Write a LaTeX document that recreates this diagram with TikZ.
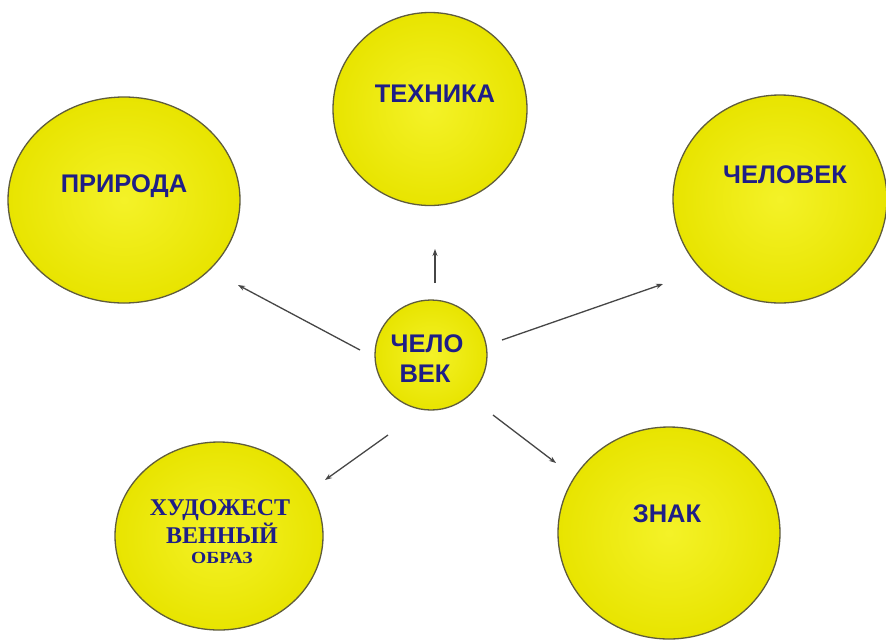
\documentclass[tikz,border=0pt]{standalone}
\usepackage{fontspec}
\setmainfont{Liberation Sans}
\newfontfamily\serifbold{Liberation Serif}
\usetikzlibrary{shapes.geometric,arrows.meta}
\definecolor{txtblue}{RGB}{30,30,135}
\definecolor{yelL}{RGB}{244,242,40}
\definecolor{yelD}{RGB}{232,228,0}
\definecolor{rimc}{RGB}{95,92,60}
\definecolor{arrc}{RGB}{70,70,70}
\begin{document}
\begin{tikzpicture}[x=1pt,y=-1pt,
  bub/.style={ellipse,draw=rimc,line width=1.3pt,inner sep=0pt,inner color=yelL,outer color=yelD},
  lbl/.style={anchor=base,inner sep=0pt,text=txtblue,font=\fontsize{25.5}{30}\selectfont\bfseries},
  slbl/.style={anchor=base,inner sep=0pt,text=txtblue,font=\serifbold\fontsize{24}{28}\selectfont\bfseries},
  arr/.style={draw=arrc,line width=1.3pt,-{Stealth[length=7pt,width=5pt]}}]
\useasboundingbox (0,0) rectangle (886,641);
\fill[white] (0,0) rectangle (886,641);
% bubbles
\node[bub,minimum width=232pt,minimum height=206pt] (prir) at (124,200) {};
\node[bub,minimum width=194pt,minimum height=193pt] (tech) at (430,109) {};
\node[bub,minimum width=214pt,minimum height=208pt] (chel) at (780,199) {};
\node[bub,minimum width=112pt,minimum height=110pt] (cen) at (431,355) {};
\node[bub,minimum width=208pt,minimum height=188pt] (hud) at (219,536) {};
\node[bub,minimum width=222pt,minimum height=212pt] (znak) at (669,533) {};
% labels
\node[lbl] (tprir) at (124,192) {ПРИРОДА};
\node[lbl] (ttech) at (435,102) {ТЕХНИКА};
\node[lbl] (tchel) at (785,183) {ЧЕЛОВЕК};
\node[lbl] (tznak) at (667,522) {ЗНАК};
\node[lbl] (tc1) at (427,352) {ЧЕЛО};
\node[lbl] (tc2) at (425,382) {ВЕК};
\node[slbl] (th1) at (220,515) {ХУДОЖЕСТ};
\node[slbl] (th2) at (222,543) {ВЕННЫЙ};
\node[slbl,font=\serifbold\fontsize{17}{20}\selectfont\bfseries,xscale=1.15] (th3) at (222,563) {ОБРАЗ};
% connector ends
\coordinate (a1s) at (360,350); \coordinate (a1e) at (238,285);
\coordinate (a2s) at (435,283); \coordinate (a2e) at (435,249);
\coordinate (a3s) at (502,340); \coordinate (a3e) at (663,284);
\coordinate (a4s) at (388,435); \coordinate (a4e) at (325,480);
\coordinate (a5s) at (493,415); \coordinate (a5e) at (556,463);
\draw[arr] (a1s) -- (a1e);
\draw[arr] (a2s) -- (a2e);
\draw[arr] (a3s) -- (a3e);
\draw[arr] (a4s) -- (a4e);
\draw[arr] (a5s) -- (a5e);
\end{tikzpicture}
\end{document}
